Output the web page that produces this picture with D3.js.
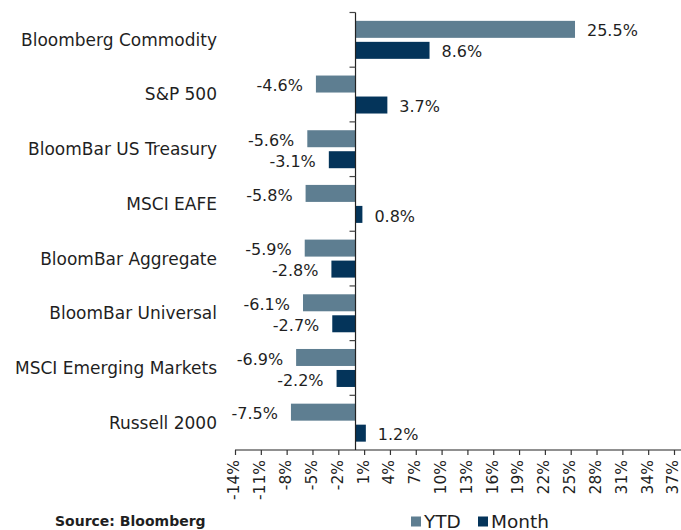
<!DOCTYPE html>
<html><head><meta charset="utf-8">
<script src="https://cdn.jsdelivr.net/npm/d3@7"></script>
<style>
body{margin:0;background:#fff;}
svg{display:block;}
text{font-family:"DejaVu Sans",sans-serif;fill:#1f1f1f;}
</style></head>
<body><svg id="c" width="681" height="530"></svg>
<script>
const categories = ["Bloomberg Commodity","S&P 500","BloomBar US Treasury","MSCI EAFE","BloomBar Aggregate","BloomBar Universal","MSCI Emerging Markets","Russell 2000"];
const ytd   = [25.5,-4.6,-5.6,-5.8,-5.9,-6.1,-6.9,-7.5];
const month = [8.6,3.7,-3.1,0.8,-2.8,-2.7,-2.2,1.2];
const seriesNames = ["YTD","Month"];
const tickValues = d3.range(-14, 38, 3);

const colors = {YTD:"#5e7e91", Month:"#04345a"};
const svg = d3.select("#c");

const x = d3.scaleLinear().domain([-14,37]).range([235,674]);
const y = d3.scaleBand().domain(categories).range([12.5,450]);
const bw = y.bandwidth();
const y1 = d3.scaleBand().domain(seriesNames).range([8.35, bw-8.35]).paddingInner(4/21);

const data = categories.map((c,i)=>({cat:c, vals:[{s:"YTD",v:ytd[i]},{s:"Month",v:month[i]}]}));

const g = svg.append("g");
const groups = g.selectAll("g.cat").data(data).join("g")
  .attr("transform", d=>`translate(0,${y(d.cat)})`);

groups.selectAll("rect").data(d=>d.vals).join("rect")
  .attr("x", d=>x(Math.min(0,d.v)))
  .attr("width", d=>Math.abs(x(d.v)-x(0)))
  .attr("y", d=>y1(d.s))
  .attr("height", y1.bandwidth())
  .attr("fill", d=>colors[d.s]);

groups.selectAll("text.val").data(d=>d.vals).join("text")
  .attr("class","val")
  .attr("x", d=> d.v>=0 ? x(d.v)+12 : x(d.v)-13)
  .attr("y", d=>y1(d.s)+y1.bandwidth()/2+1.5)
  .attr("dy","0.35em")
  .attr("text-anchor", d=> d.v>=0 ? "start":"end")
  .style("font-size","16px")
  .text(d=>d.v.toFixed(1)+"%");

// category labels
svg.selectAll("text.cat").data(categories).join("text")
  .attr("class","cat")
  .attr("x",217)
  .attr("y", d=>y(d)+bw/2)
  .attr("dy","0.35em")
  .attr("text-anchor","end")
  .style("font-size","17px")
  .text(d=>d);

// vertical category axis at x=0
const x0 = x(0);
svg.append("line").attr("x1",x0).attr("x2",x0).attr("y1",y.range()[0]).attr("y2",y.range()[1]).attr("stroke","#222").attr("stroke-width",1.2);
const bounds = categories.map(c=>y(c));
svg.selectAll("line.ct").data(bounds).join("line")
  .attr("class","ct").attr("x1",x0-6).attr("x2",x0).attr("y1",d=>d).attr("y2",d=>d)
  .attr("stroke","#444").attr("stroke-width",1.2);

// bottom axis
const ax = svg.append("g").attr("transform","translate(0,450)")
  .call(d3.axisBottom(x).tickValues(tickValues).tickSize(5).tickSizeOuter(0).tickFormat(d=>d+"%"));
ax.select(".domain").attr("d","M235,0H681").attr("stroke","#222").attr("stroke-width",1.2);
ax.selectAll(".tick line").attr("stroke","#333").attr("stroke-width",1.2);
ax.selectAll(".tick text")
  .attr("transform","rotate(-90)")
  .attr("x",-10).attr("y",-1.5).attr("dy","0.35em")
  .attr("text-anchor","end")
  .style("font-size","15.5px")
  .style("font-family",'"DejaVu Sans",sans-serif')
  .attr("fill","#1f1f1f");

// legend
const leg = svg.append("g");
const legX = [411, 478];
seriesNames.forEach((s,i)=>{
  leg.append("rect").attr("x",legX[i]).attr("y",516.5).attr("width",10).attr("height",10).attr("fill",colors[s]);
  leg.append("text").attr("x",legX[i]+13).attr("y",527.5).style("font-size","18.5px").text(s);
});

// source
svg.append("text").attr("x",55).attr("y",526)
  .style("font-size","14px").style("font-weight","bold").text("Source: Bloomberg");
</script></body></html>
